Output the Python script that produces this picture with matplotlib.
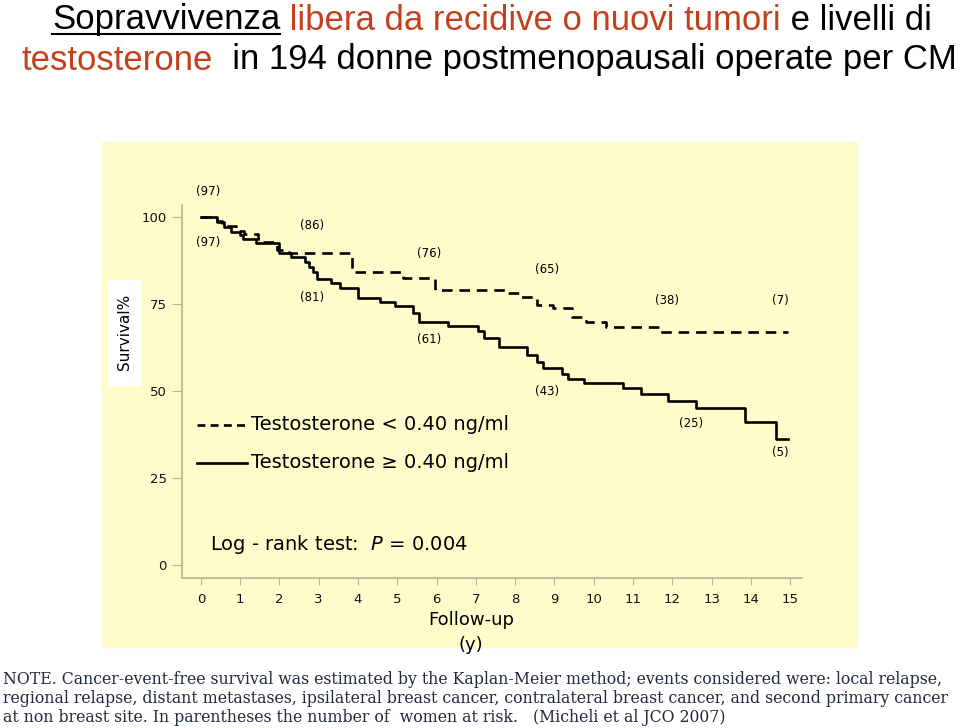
import matplotlib
matplotlib.use('Agg')
import matplotlib.pyplot as plt
from matplotlib.lines import Line2D
from matplotlib.patches import Rectangle

# Kaplan-Meier step curves (years, survival %)
t_low = [0, 0.4, 0.55, 0.9, 1.1, 1.45, 1.55, 1.95, 2.25, 3.85, 5.15, 5.95, 7.8, 8.1,
         8.55, 8.95, 9.45, 9.8, 10.3, 11.65, 14.95]
s_low = [100, 98.8, 97.5, 96, 95.1, 93.7, 92.8, 90.5, 89.6, 84.2, 82.4, 79, 78, 77,
         74.7, 73.8, 71.3, 69.8, 68.4, 67, 67]

t_high = [0, 0.4, 0.6, 0.76, 1.0, 1.07, 1.4, 2.0, 2.3, 2.65, 2.75, 2.85, 2.95, 3.3, 3.55,
          4.0, 4.55, 4.95, 5.4, 5.55, 6.3, 7.05, 7.2, 7.6, 8.3, 8.55, 8.7, 9.2, 9.35, 9.75,
          10.75, 11.2, 11.9, 12.6, 13.85, 14.65, 14.95]
s_high = [100, 98.5, 97, 95.7, 94.8, 93.7, 92.5, 89.7, 88.5, 87, 85.6, 84.2, 82.2, 81, 79.6,
          76.7, 75.6, 74.4, 72.4, 69.8, 68.7, 67.2, 65.2, 62.6, 60.3, 58.3, 56.6, 54.9, 53.4, 52.3,
          50.9, 49.1, 47.1, 45.1, 41.1, 36.2, 36.2]

# numbers at risk
risk_low = ["(97)", "(86)", "(76)", "(65)", "(38)", "(7)"]
risk_high = ["(97)", "(81)", "(61)", "(43)", "(25)", "(5)"]
risk_x_low = [0.18, 2.82, 5.8, 8.8, 11.86, 14.76]
risk_y_low = [107.2, 97.4, 89.4, 84.8, 76.1, 76.1]
risk_x_high = [0.18, 2.82, 5.8, 8.8, 12.47, 14.76]
risk_y_high = [92.5, 76.7, 64.9, 49.7, 40.5, 32.2]

yticks = [0, 25, 50, 75, 100]
xticks = list(range(16))

note_lines = [
    "NOTE. Cancer-event-free survival was estimated by the Kaplan-Meier method; events considered were: local relapse,",
    "regional relapse, distant metastases, ipsilateral breast cancer, contralateral breast cancer, and second primary cancer",
    "at non breast site. In parentheses the number of  women at risk.   (Micheli et al JCO 2007)",
]

W, H = 960, 728
RED = '#C4401C'
SPINE = '#B8B58E'

def fx(px):
    return px / W

def fy(py):
    return 1 - py / H

fig = plt.figure(figsize=(9.6, 7.28), dpi=100)

# pale yellow panel behind the chart
fig.add_artist(Rectangle((fx(102), fy(647)), (857 - 102) / W, (647 - 142) / H,
                         transform=fig.transFigure, color='#FFFCCB', zorder=0))

ax = fig.add_axes([fx(182), fy(578), 620 / W, 373 / H])
ax.patch.set_alpha(0)

dash = (0, (4, 2.6))
ax.plot(t_low, s_low, drawstyle='steps-post', color='black', lw=1.9, linestyle=dash)
ax.plot(t_high, s_high, drawstyle='steps-post', color='black', lw=1.9)

for lab, x, y in zip(risk_low, risk_x_low, risk_y_low):
    ax.text(x, y, lab, fontsize=8.5, ha='center', va='center', clip_on=False)
for lab, x, y in zip(risk_high, risk_x_high, risk_y_high):
    ax.text(x, y, lab, fontsize=8.5, ha='center', va='center', clip_on=False)

ax.set_xlim(-0.48, 15.3)
ax.set_ylim(-3.74, 103.4)
ax.set_xticks(xticks)
ax.set_yticks(yticks)
for s in ['top', 'right']:
    ax.spines[s].set_visible(False)
for s in ['left', 'bottom']:
    ax.spines[s].set_color(SPINE)
    ax.spines[s].set_linewidth(1.2)
ax.tick_params(axis='both', direction='out', color=SPINE, labelsize=9.5, labelcolor='#111111')
ax.tick_params(axis='y', length=7, pad=4)
ax.tick_params(axis='x', length=5, pad=6)

# legend drawn by hand
fig.add_artist(Line2D([fx(197), fx(247)], [fy(425), fy(425)], color='black', lw=1.9, linestyle=(0, (3, 2))))
fig.add_artist(Line2D([fx(197), fx(247)], [fy(463), fy(463)], color='black', lw=1.9))
fig.text(fx(251), fy(425), "Testosterone < 0.40 ng/ml", fontsize=14, va='center')
fig.text(fx(251), fy(463), "Testosterone \u2265 0.40 ng/ml", fontsize=14, va='center')
fig.text(fx(210), fy(545), r"Log - rank test:  $\it{P}$ = 0.004", fontsize=14, va='center')

fig.text(fx(471), fy(620), "Follow-up", fontsize=13, ha='center', va='center')
fig.text(fx(471), fy(645), "(y)", fontsize=13, ha='center', va='center')

fig.add_artist(Rectangle((fx(108), fy(385)), 32 / W, 105 / H, transform=fig.transFigure,
                         color='white', zorder=1))
fig.text(fx(124), fy(332), "Survival%", fontsize=11, rotation=90, ha='center', va='center', zorder=2)

# title with coloured pieces, each line centred
renderer = fig.canvas.get_renderer()

def put_line(pieces, xc, y, size):
    texts = []
    x = 0
    for s, c, under in pieces:
        t = fig.text(x, y, s, color=c, fontsize=size, family='Liberation Sans', va='center')
        bb = t.get_window_extent(renderer)
        texts.append((t, bb.x0, bb.x1, under, c))
        x = bb.x1 / W
    shift = xc - (texts[-1][2] - texts[0][1]) / 2
    for t, x0, x1, under, c in texts:
        t.set_x(x0 / W + shift / W)
        if under:
            fig.add_artist(Line2D([(x0 + shift) / W, (x1 + shift) / W], [fy(34), fy(34)],
                                  color=c, lw=1.5))

put_line([("Sopravvivenza", 'black', True),
          (" libera da recidive o nuovi tumori", RED, False),
          (" e livelli di", 'black', False)], 492, fy(20), 25)
put_line([("testosterone", RED, False),
          ("  in 194 donne postmenopausali operate per CM", 'black', False)], 489, fy(60), 25)

for i, line in enumerate(note_lines):
    fig.text(fx(3), fy(680 + 18.5 * i), line, family='DejaVu Serif', fontsize=11.3,
             color='#1E2B3C', va='center')

fig.savefig('out.png', dpi=100)
